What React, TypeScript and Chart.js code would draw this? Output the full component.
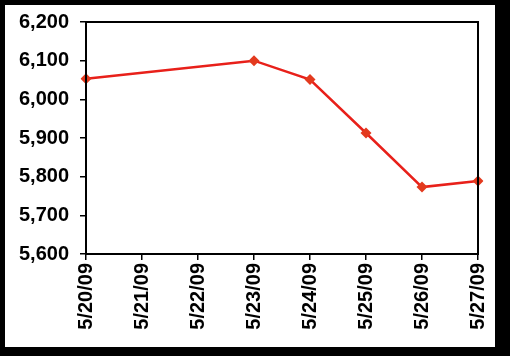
import React, { useEffect, useRef } from "react";
import { Chart, registerables } from "chart.js";

Chart.register(...registerables);

const dates = ["5/20/09", "5/21/09", "5/22/09", "5/23/09", "5/24/09", "5/25/09", "5/26/09", "5/27/09"];
const values: (number | null)[] = [6053, null, null, 6100, 6051, 5913, 5773, 5789];
const yMin = 5600;
const yMax = 6200;
const yStep = 100;

const boxPlugin = {
  id: "box",
  afterDraw(chart: any) {
    const { ctx, chartArea } = chart;
    ctx.save();
    ctx.strokeStyle = "#000";
    ctx.lineWidth = 2;
    ctx.strokeRect(chartArea.left, chartArea.top, chartArea.right - chartArea.left, chartArea.bottom - chartArea.top);
    ctx.restore();
  },
};

export default function App() {
  const ref = useRef<HTMLCanvasElement>(null);
  useEffect(() => {
    const font = { family: "'Liberation Sans', Arial, sans-serif", size: 20, weight: "bold" as const };
    const chart = new Chart(ref.current!, {
      type: "line",
      data: {
        labels: dates,
        datasets: [
          {
            data: values,
            borderColor: "#e8201a",
            backgroundColor: "#e33a1e",
            borderWidth: 2.5,
            pointStyle: "rectRot",
            pointRadius: 5.5,
            pointBorderWidth: 0,
            spanGaps: true,
            tension: 0,
          },
        ],
      },
      options: {
        animation: false,
        responsive: false,
        devicePixelRatio: 1,
        layout: { padding: { top: 11, right: 6, left: 0, bottom: 0 } },
        plugins: { legend: { display: false }, tooltip: { enabled: false } },
        scales: {
          x: {
            offset: false,
            grid: { display: true, drawOnChartArea: false, drawTicks: true, tickLength: 6, color: "#000", lineWidth: 1.5 },
            border: { display: true, color: "#000", width: 2 },
            ticks: { color: "#000", font, minRotation: 90, maxRotation: 90, padding: 3, autoSkip: false },
            afterFit(scale: any) {
              scale.height = 93;
            },
          },
          y: {
            min: yMin,
            max: yMax,
            grid: { display: true, drawOnChartArea: false, drawTicks: true, tickLength: 6, color: "#000", lineWidth: 1.5 },
            border: { display: true, color: "#000", width: 2 },
            ticks: {
              stepSize: yStep,
              color: "#000",
              font,
              padding: 11,
              callback: (v: any) => Number(v).toLocaleString("en-US"),
            },
            afterFit(scale: any) {
              scale.width = 81;
            },
          },
        },
      },
      plugins: [boxPlugin],
    });
    return () => chart.destroy();
  }, []);
  return (
    <div style={{ position: "fixed", left: 0, top: 0, width: 510, height: 356, background: "#000" }}>
      <div style={{ position: "absolute", left: 5, top: 5, width: 490, height: 342, background: "#fff", overflow: "hidden" }}>
        <canvas ref={ref} width={500} height={348} style={{ display: "block", position: "absolute", left: 0, top: -6 }} />
      </div>
    </div>
  );
}
